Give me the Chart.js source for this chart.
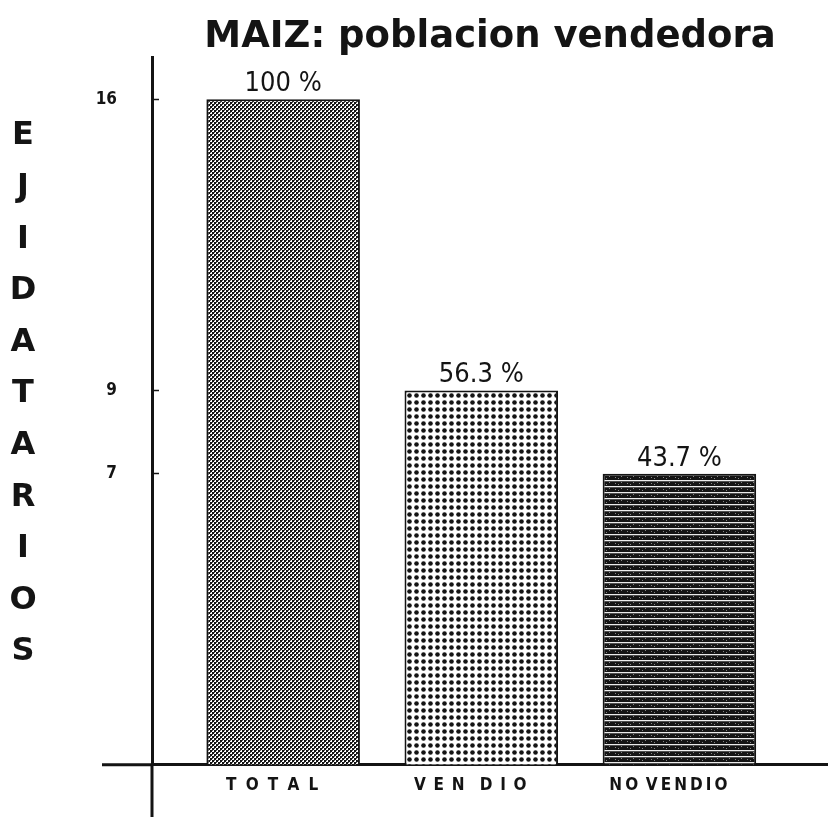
<!DOCTYPE html>
<html>
<head>
<meta charset="utf-8">
<script src="https://cdn.jsdelivr.net/npm/chart.js@4.4.0/dist/chart.umd.min.js"></script>
<style>
  html, body { margin: 0; padding: 0; background: #fff; }
  #wrap { width: 828px; height: 817px; position: relative; }
</style>
</head>
<body>
<div id="wrap"><canvas id="maiz"></canvas></div>
<script>
const categories = ['TOTAL', 'VENDIO', 'NO VENDIO'];
const tickLabels = ['T\u2002\u200AO\u2002\u200AT\u2002\u200AA\u2002\u200AL',
                    'V\u2002E\u2002N\u2003D\u2002I\u2002O',
                    'N\u2009O\u2002V\u2009E\u2009N\u2009D\u2009I\u2009O'];
const ejidatarios = [16, 9, 7];
const percentLabels = ['100 %', '56.3 %', '43.7 %'];
const yTickValues = [7, 9, 16];
const axisTitle = 'EJIDATARIOS';

const ink = '#141414';

// tramas de las barras
const makePattern = (w, h, paint) => {
    const c = document.createElement('canvas');
    c.width = w;
    c.height = h;
    paint(c.getContext('2d'));
    return c.getContext('2d').createPattern(c, 'repeat');
};

const checker = makePattern(4, 4, (c) => {
    c.fillStyle = '#fff';
    c.fillRect(0, 0, 4, 4);
    c.fillStyle = ink;
    c.fillRect(0, 0, 2, 2);
    c.fillRect(2, 2, 2, 2);
    c.fillStyle = '#555';
    c.fillRect(2, 0, 1, 1);
    c.fillRect(0, 2, 1, 1);
});

const dots = makePattern(7, 7, (c) => {
    c.fillStyle = '#fff';
    c.fillRect(0, 0, 7, 7);
    c.fillStyle = ink;
    c.beginPath();
    c.arc(3.5, 3.5, 2.3, 0, Math.PI * 2);
    c.fill();
});

const stripes = makePattern(12, 6, (c) => {
    c.fillStyle = ink;
    c.fillRect(0, 0, 12, 6);
    c.fillStyle = '#ececec';
    c.fillRect(0, 0, 12, 1);
    c.fillStyle = '#888';
    c.fillRect(0, 1, 12, 0.5);
    c.fillRect(3, 3, 1, 1);
    c.fillRect(9, 2, 1, 1);
    c.fillRect(6, 4, 1, 1);
});

// etiquetas de porcentaje y letras del eje
const extras = {
    id: 'extras',
    afterDatasetsDraw(chart) {
        const ctx = chart.ctx;
        const meta = chart.getDatasetMeta(0);
        ctx.save();
        ctx.fillStyle = ink;
        ctx.font = '27px "DejaVu Sans Condensed", "DejaVu Sans", sans-serif';
        ctx.textAlign = 'center';
        ctx.textBaseline = 'alphabetic';
        meta.data.forEach((bar, i) => {
            ctx.fillText(percentLabels[i], bar.x, bar.y - 8);
        });
        ctx.restore();
    },
    afterDraw(chart) {
        const ctx = chart.ctx;
        const {left, bottom} = chart.chartArea;
        ctx.save();
        ctx.strokeStyle = ink;
        ctx.lineWidth = 3;
        ctx.beginPath();
        ctx.moveTo(left, bottom);
        ctx.lineTo(left, chart.height);
        ctx.moveTo(left - 50, bottom);
        ctx.lineTo(left, bottom);
        ctx.stroke();

        ctx.fillStyle = ink;
        ctx.font = 'bold 32px "DejaVu Sans", sans-serif';
        ctx.textAlign = 'center';
        ctx.textBaseline = 'middle';
        axisTitle.split('').forEach((ch, i) => {
            ctx.fillText(ch, 23, 136 + i * 51.6);
        });
        ctx.restore();
    }
};

const ctx = document.getElementById('maiz').getContext('2d');

new Chart(ctx, {
    type: 'bar',
    data: {
        datasets: [{
            data: categories.map((c, i) => ({x: i, y: ejidatarios[i]})),
            backgroundColor: [checker, dots, stripes],
            borderColor: ink,
            borderWidth: 2,
            borderSkipped: 'start',
            barPercentage: 1,
            categoryPercentage: 0.775
        }]
    },
    options: {
        responsive: true,
        maintainAspectRatio: false,
        animation: false,
        layout: { padding: 0 },
        plugins: {
            legend: { display: false },
            tooltip: { enabled: false },
            title: {
                display: true,
                fullSize: false,
                text: 'MAIZ: poblacion vendedora',
                color: ink,
                font: { family: '"DejaVu Sans", sans-serif', size: 37, weight: 'bold', lineHeight: 1.1 },
                padding: { top: 17, bottom: 0 }
            }
        },
        scales: {
            x: {
                type: 'linear',
                offset: false,
                min: -0.662,
                max: 2.75,
                afterBuildTicks: (scale) => {
                    scale.ticks = categories.map((c, i) => ({value: i}));
                },
                afterFit: (scale) => { scale.height = 50; },
                grid: { drawOnChartArea: false, drawTicks: false },
                border: { display: true, color: ink, width: 3 },
                ticks: {
                    color: ink,
                    padding: 11,
                    labelOffset: -11,
                    font: { family: '"DejaVu Sans Condensed", "DejaVu Sans", sans-serif', size: 17, weight: 'bold' },
                    callback: (v) => tickLabels[v] || ''
                }
            },
            y: {
                min: 0,
                max: 17,
                afterBuildTicks: (scale) => {
                    scale.ticks = yTickValues.map((v) => ({value: v}));
                },
                afterFit: (scale) => { scale.width = 152; },
                grid: {
                    drawOnChartArea: false,
                    drawTicks: true,
                    tickLength: -7,
                    tickColor: ink,
                    tickWidth: 1.5
                },
                border: { display: true, color: ink, width: 3 },
                ticks: {
                    color: ink,
                    padding: 42,
                    font: { family: '"DejaVu Sans Condensed", "DejaVu Sans", sans-serif', size: 17, weight: 'bold' }
                }
            }
        }
    },
    plugins: [extras]
});
</script>
</body>
</html>
